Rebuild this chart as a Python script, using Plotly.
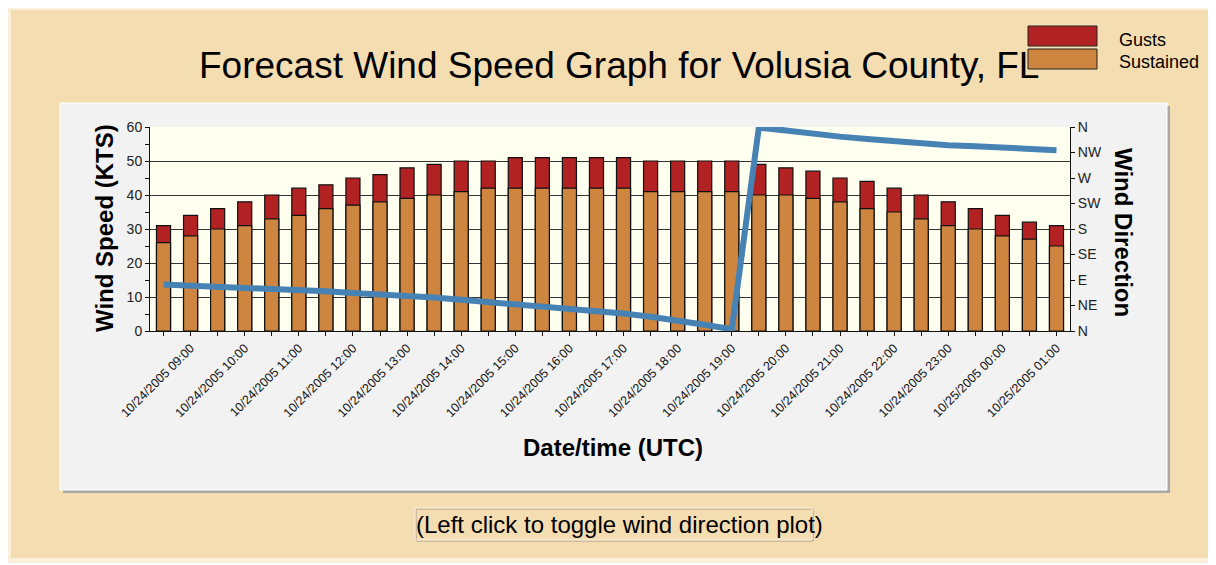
import plotly.graph_objects as go

times = [
    "10/24/2005 08:30", "10/24/2005 09:00", "10/24/2005 09:30", "10/24/2005 10:00",
    "10/24/2005 10:30", "10/24/2005 11:00", "10/24/2005 11:30", "10/24/2005 12:00",
    "10/24/2005 12:30", "10/24/2005 13:00", "10/24/2005 13:30", "10/24/2005 14:00",
    "10/24/2005 14:30", "10/24/2005 15:00", "10/24/2005 15:30", "10/24/2005 16:00",
    "10/24/2005 16:30", "10/24/2005 17:00", "10/24/2005 17:30", "10/24/2005 18:00",
    "10/24/2005 18:30", "10/24/2005 19:00", "10/24/2005 19:30", "10/24/2005 20:00",
    "10/24/2005 20:30", "10/24/2005 21:00", "10/24/2005 21:30", "10/24/2005 22:00",
    "10/24/2005 22:30", "10/24/2005 23:00", "10/24/2005 23:30", "10/25/2005 00:00",
    "10/25/2005 00:30", "10/25/2005 01:00",
]
gusts = [31, 34, 36, 38, 40, 42, 43, 45, 46, 48, 49, 50, 50, 51, 51, 51, 51,
         51, 50, 50, 50, 50, 49, 48, 47, 45, 44, 42, 40, 38, 36, 34, 32, 31]
sustained = [26, 28, 30, 31, 33, 34, 36, 37, 38, 39, 40, 41, 42, 42, 42, 42, 42,
             42, 41, 41, 41, 41, 40, 40, 39, 38, 36, 35, 33, 31, 30, 28, 27, 25]
direction_deg = [82, 80, 79, 78, 74, 72, 70, 67, 65, 62, 59, 55, 51, 47, 43, 40, 36,
                 31, 25, 19, 11, 3, 359, 354, 348, 343, 339, 335, 330, 328, 326, 323, 321, 319]
dir_ticks = [0, 45, 90, 135, 180, 225, 270, 315, 360]
dir_labels = ["N", "NE", "E", "SE", "S", "SW", "W", "NW", "N"]
speed_ticks = [0, 10, 20, 30, 40, 50, 60]

# the page body adds an 8px margin; lay out in screen pixels minus that offset
OFF = 8
W, H = 1216 - OFF, 565 - OFF
SL, SR, ST, SB = 150, 1070, 127, 331          # plot area in screen pixels
L, R, T, B = SL - OFF, SR - OFF, ST - OFF, SB - OFF


def fx(px):
    return (px - SL) / (SR - SL)


def fy(py):
    return (SB - py) / (SB - ST)


FONT = "Liberation Sans, Arial, sans-serif"
tick_text = [t if t.endswith(":00") else "" for t in times]

fig = go.Figure()
fig.add_trace(go.Bar(x=times, y=gusts, name="Gusts",
                     marker=dict(color="#B22222", line=dict(color="#111111", width=1.2)),
                     showlegend=False))
fig.add_trace(go.Bar(x=times, y=sustained, name="Sustained",
                     marker=dict(color="#CD853F", line=dict(color="#111111", width=1.2)),
                     showlegend=False))
fig.add_trace(go.Scatter(x=times, y=direction_deg, yaxis="y2", mode="lines",
                         line=dict(color="#4682B4", width=6), showlegend=False))

shapes = []
shapes.append(dict(type="rect", xref="paper", yref="paper", layer="below",
                   x0=fx(5), x1=fx(1213), y0=fy(4), y1=fy(563),
                   fillcolor="#FCEFDA", line=dict(width=0)))
shapes.append(dict(type="rect", xref="paper", yref="paper", layer="below",
                   x0=fx(11), x1=fx(1208), y0=fy(10), y1=fy(558),
                   fillcolor="#F5DDB2", line=dict(width=0)))
shapes.append(dict(type="rect", xref="paper", yref="paper", layer="below",
                   x0=fx(63), x1=fx(1170), y0=fy(106), y1=fy(493),
                   fillcolor="#A8A8A8", line=dict(width=0)))
shapes.append(dict(type="rect", xref="paper", yref="paper", layer="below",
                   x0=fx(60), x1=fx(1167), y0=fy(103), y1=fy(490),
                   fillcolor="#F2F2F2", line=dict(color="#FFFFFF", width=1)))
shapes.append(dict(type="rect", xref="paper", yref="paper", layer="below",
                   x0=0, x1=1, y0=0, y1=1,
                   fillcolor="#FFFFF0", line=dict(width=0)))
shapes.append(dict(type="rect", xref="paper", yref="paper",
                   x0=fx(1028), x1=fx(1097), y0=fy(46), y1=fy(26),
                   fillcolor="#B22222", line=dict(color="#222222", width=1)))
shapes.append(dict(type="rect", xref="paper", yref="paper",
                   x0=fx(1028), x1=fx(1097), y0=fy(69), y1=fy(49),
                   fillcolor="#CD853F", line=dict(color="#222222", width=1)))
shapes.append(dict(type="rect", xref="paper", yref="paper",
                   x0=fx(416), x1=fx(813), y0=fy(541), y1=fy(509),
                   fillcolor="rgba(0,0,0,0)", line=dict(color="#A89C86", width=1)))
shapes.append(dict(type="rect", xref="paper", yref="paper",
                   x0=fx(415), x1=fx(812), y0=fy(540), y1=fy(508),
                   fillcolor="rgba(0,0,0,0)", line=dict(color="#FBF1E0", width=1)))

annotations = [
    dict(text="Forecast Wind Speed Graph for Volusia County, FL", x=fx(619), y=fy(66),
         xref="paper", yref="paper", showarrow=False, xanchor="center", yanchor="middle",
         font=dict(family=FONT, size=37, color="#000000")),
    dict(text="Gusts", x=fx(1117), y=fy(40), xref="paper", yref="paper", showarrow=False,
         xanchor="left", yanchor="middle", font=dict(family=FONT, size=18, color="#000000")),
    dict(text="Sustained", x=fx(1117), y=fy(62), xref="paper", yref="paper", showarrow=False,
         xanchor="left", yanchor="middle", font=dict(family=FONT, size=18, color="#000000")),
    dict(text="<b>Wind Speed (KTS)</b>", x=fx(104), y=fy(228), xref="paper", yref="paper",
         showarrow=False, textangle=-90, xanchor="center", yanchor="middle",
         font=dict(family=FONT, size=24, color="#000000")),
    dict(text="<b>Wind Direction</b>", x=fx(1124), y=fy(232), xref="paper", yref="paper",
         showarrow=False, textangle=90, xanchor="center", yanchor="middle",
         font=dict(family=FONT, size=24, color="#000000")),
    dict(text="<b>Date/time (UTC)</b>", x=fx(613), y=fy(447), xref="paper", yref="paper",
         showarrow=False, xanchor="center", yanchor="middle",
         font=dict(family=FONT, size=24, color="#000000")),
    dict(text="(Left click to toggle wind direction plot)", x=fx(414), y=fy(524),
         xref="paper", yref="paper", showarrow=False, xanchor="left", yanchor="middle",
         font=dict(family=FONT, size=24, color="#000000")),
]

fig.update_layout(
    width=W, height=H,
    margin=dict(l=L, r=W - R, t=T, b=H - B, pad=0),
    paper_bgcolor="#FFFFFF",
    plot_bgcolor="rgba(0,0,0,0)",
    barmode="overlay",
    bargap=0.48,
    showlegend=False,
    shapes=shapes,
    annotations=annotations,
    font=dict(family=FONT, size=14, color="#222222"),
    xaxis=dict(
        type="category", range=[-0.5, len(times) - 0.5],
        tickmode="array", tickvals=times, ticktext=tick_text,
        tickangle=-45, tickfont=dict(size=12.5, color="#111111"),
        ticks="outside", ticklen=4, tickcolor="#111111",
        showline=True, linecolor="#111111", linewidth=1,
        showgrid=False, zeroline=False, fixedrange=True,
    ),
    yaxis=dict(
        range=[0, 60], tickvals=speed_ticks,
        tickfont=dict(size=14, color="#222222"),
        ticks="outside", ticklen=4, tickcolor="#111111",
        minor=dict(dtick=5, ticks="outside", ticklen=4, tickcolor="#111111", showgrid=False),
        showline=True, linecolor="#111111", linewidth=1,
        showgrid=True, gridcolor="#333333", gridwidth=1,
        zeroline=False, fixedrange=True,
    ),
    yaxis2=dict(
        overlaying="y", side="right", range=[0, 360],
        tickmode="array", tickvals=dir_ticks, ticktext=dir_labels,
        tickfont=dict(size=14, color="#222222"),
        ticks="outside", ticklen=4, tickcolor="#111111",
        showline=True, linecolor="#111111", linewidth=1,
        showgrid=False, zeroline=False, fixedrange=True,
    ),
)

fig.write_html("out.html", config={"displayModeBar": False})
